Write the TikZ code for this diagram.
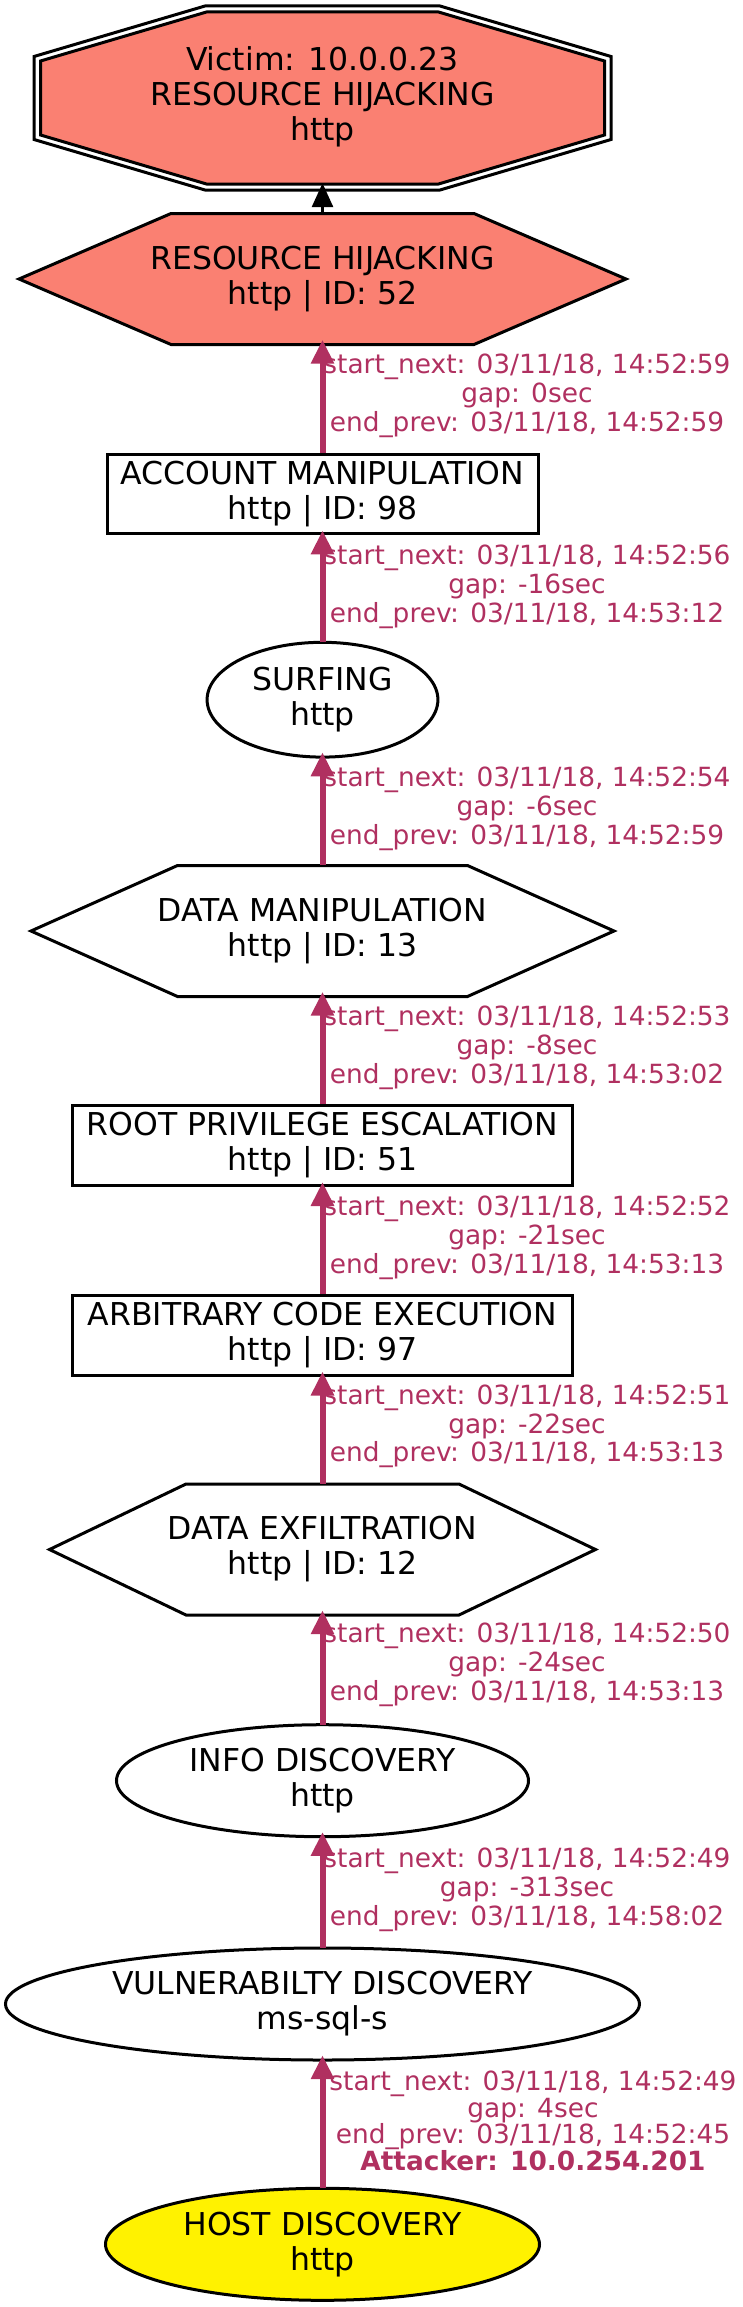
\documentclass[tikz,border=0pt]{standalone}
\usepackage{fontspec}
\setmainfont{DejaVu Sans}
\usetikzlibrary{arrows.meta}
\definecolor{edgecol}{HTML}{B03060}
\definecolor{salmonc}{HTML}{FA8072}
\tikzset{
  ntext/.style={inner sep=0pt, align=center, font=\fontsize{31.5}{35}\selectfont},
  shapeline/.style={draw=black, line width=3pt, line join=miter},
  boxnode/.style={ntext, draw=black, line width=3pt, fill=white},
  elabel/.style={inner sep=0pt, align=center, text=edgecol, font=\fontsize{26.4}{28.7}\selectfont},
  elabeltight/.style={elabel, font=\fontsize{26.4}{26.5}\selectfont},
  flow/.style={draw=edgecol, line width=6pt, -{Triangle[length=24pt,width=22pt]}, shorten >=-5pt},
  victimarrow/.style={draw=black, line width=3pt, -{Triangle[length=24pt,width=21pt]}, shorten >=-1pt},
}
\begin{document}
\begin{tikzpicture}[x=1pt,y=-1pt]
\useasboundingbox (0,0) rectangle (743,2307);

% ---- Victim double octagon
\draw[shapeline] (205,6) -- (440,6) -- (611,56.5) -- (611,139.5) -- (440,190) -- (205,190) -- (34,139.5) -- (34,56.5) -- cycle;
\draw[shapeline, fill=salmonc] (206.5,12) -- (438.5,12) -- (604.5,61) -- (604.5,135) -- (438.5,184) -- (206.5,184) -- (40.5,135) -- (40.5,61) -- cycle;
\node[ntext, minimum width=564pt, minimum height=174pt] (victim) at (322.5,97) {Victim: 10.0.0.23\\RESOURCE HIJACKING\\http};

% ---- RESOURCE HIJACKING hexagon
\draw[shapeline, fill=salmonc] (19,279) -- (171,213.5) -- (474,213.5) -- (626,279) -- (474,344.5) -- (171,344.5) -- cycle;
\node[ntext, minimum width=607pt, minimum height=131pt] (rh) at (322.5,279) {RESOURCE HIJACKING\\http | ID: 52};

% ---- ACCOUNT MANIPULATION box
\node[boxnode, minimum width=431pt, minimum height=79.6pt] (am) at (322.5,494.1) {ACCOUNT MANIPULATION\\http | ID: 98};

% ---- SURFING ellipse
\draw[shapeline, fill=white] (322.5,699.7) ellipse [x radius=115.4, y radius=57.4];
\node[ntext, minimum width=230.8pt, minimum height=114.8pt] (surf) at (322.5,699.7) {SURFING\\http};

% ---- DATA MANIPULATION hexagon
\draw[shapeline, fill=white] (31,931) -- (177.5,865.5) -- (467.5,865.5) -- (614,931) -- (467.5,996.5) -- (177.5,996.5) -- cycle;
\node[ntext, minimum width=583pt, minimum height=131pt] (dm) at (322.5,931) {DATA MANIPULATION\\http | ID: 13};

% ---- ROOT PRIVILEGE ESCALATION box
\node[boxnode, minimum width=500pt, minimum height=80pt] (rpe) at (322.5,1145.5) {ROOT PRIVILEGE ESCALATION\\http | ID: 51};

% ---- ARBITRARY CODE EXECUTION box
\node[boxnode, minimum width=500pt, minimum height=79.6pt] (ace) at (322.5,1335.2) {ARBITRARY CODE EXECUTION\\http | ID: 97};

% ---- DATA EXFILTRATION hexagon
\draw[shapeline, fill=white] (49.5,1549.5) -- (186,1484) -- (459,1484) -- (595.5,1549.5) -- (459,1615) -- (186,1615) -- cycle;
\node[ntext, minimum width=546pt, minimum height=131pt] (de) at (322.5,1549.5) {DATA EXFILTRATION\\http | ID: 12};

% ---- INFO DISCOVERY ellipse
\draw[shapeline, fill=white] (322.5,1780.7) ellipse [x radius=206, y radius=56];
\node[ntext, minimum width=412pt, minimum height=112pt] (id) at (322.5,1780.7) {INFO DISCOVERY\\http};

% ---- VULNERABILTY DISCOVERY ellipse
\draw[shapeline, fill=white] (322.5,2004) ellipse [x radius=317, y radius=56];
\node[ntext, minimum width=634pt, minimum height=112pt] (vd) at (322.5,2004) {VULNERABILTY DISCOVERY\\ms-sql-s};

% ---- HOST DISCOVERY ellipse
\draw[shapeline, fill=yellow] (322.5,2244.3) ellipse [x radius=217, y radius=56];
\node[ntext, minimum width=434pt, minimum height=112pt] (hd) at (322.5,2244.3) {HOST DISCOVERY\\http};

% ---- edge labels
\node[elabel] (l1) at (527,396) {start\_next: 03/11/18, 14:52:59\\gap: 0sec\\end\_prev: 03/11/18, 14:52:59};
\node[elabel] (l2) at (527,586.7) {start\_next: 03/11/18, 14:52:56\\gap: -16sec\\end\_prev: 03/11/18, 14:53:12};
\node[elabel] (l3) at (527,808.7) {start\_next: 03/11/18, 14:52:54\\gap: -6sec\\end\_prev: 03/11/18, 14:52:59};
\node[elabel] (l4) at (527,1047.8) {start\_next: 03/11/18, 14:52:53\\gap: -8sec\\end\_prev: 03/11/18, 14:53:02};
\node[elabel] (l5) at (527,1238) {start\_next: 03/11/18, 14:52:52\\gap: -21sec\\end\_prev: 03/11/18, 14:53:13};
\node[elabel] (l6) at (527,1426.4) {start\_next: 03/11/18, 14:52:51\\gap: -22sec\\end\_prev: 03/11/18, 14:53:13};
\node[elabel] (l7) at (527,1664.7) {start\_next: 03/11/18, 14:52:50\\gap: -24sec\\end\_prev: 03/11/18, 14:53:13};
\node[elabel] (l8) at (527,1889.7) {start\_next: 03/11/18, 14:52:49\\gap: -313sec\\end\_prev: 03/11/18, 14:58:02};
\node[elabeltight] (l9) at (533,2121) {start\_next: 03/11/18, 14:52:49\\gap: 4sec\\end\_prev: 03/11/18, 14:52:45\\\textbf{Attacker: 10.0.254.201}};

% ---- connectors
\draw[victimarrow] (rh.north) -- (victim.south);
\draw[flow] (am.north) -- (rh.south);
\draw[flow] (surf.north) -- (am.south);
\draw[flow] (dm.north) -- (surf.south);
\draw[flow] (rpe.north) -- (dm.south);
\draw[flow] (ace.north) -- (rpe.south);
\draw[flow] (de.north) -- (ace.south);
\draw[flow] (id.north) -- (de.south);
\draw[flow] (vd.north) -- (id.south);
\draw[flow] (hd.north) -- (vd.south);
\end{tikzpicture}
\end{document}
